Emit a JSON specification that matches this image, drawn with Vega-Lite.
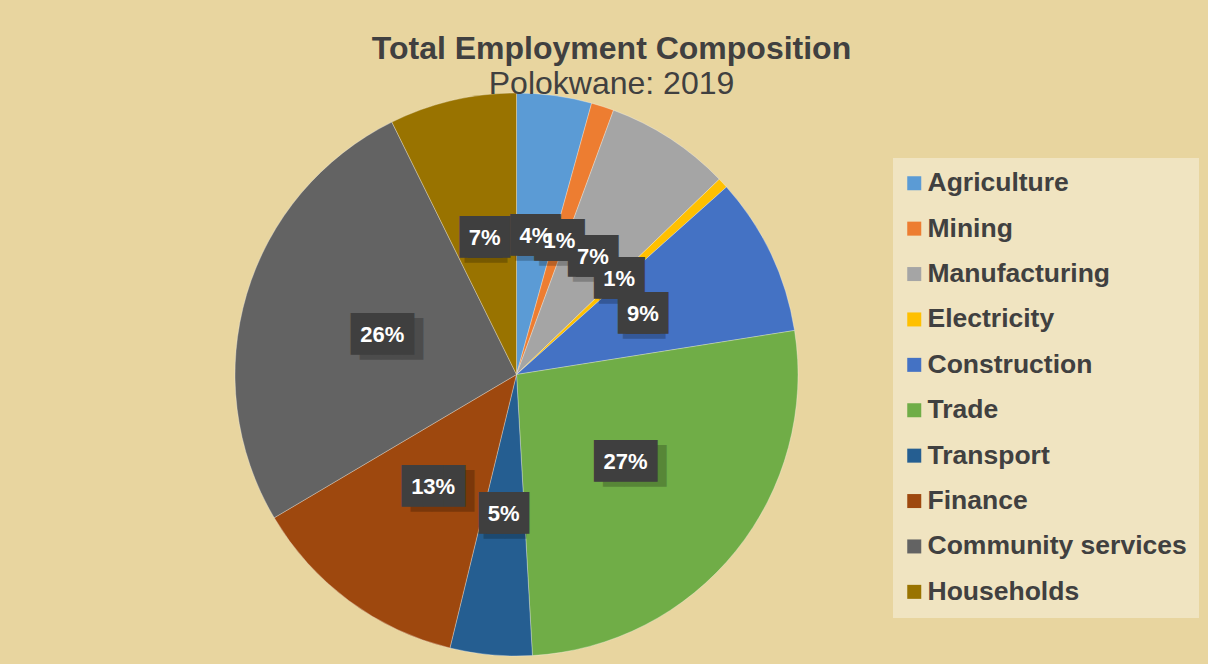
{
  "$schema": "https://vega.github.io/schema/vega-lite/v6.json",
  "width": 563,
  "height": 563,
  "autosize": {"type": "none"},
  "padding": {"left": 235, "top": 93, "right": 410, "bottom": 8},
  "background": "#E8D59F",
  "config": {"view": {"stroke": null}},
  "title": {
    "text": "Total Employment Composition",
    "subtitle": "Polokwane: 2019",
    "anchor": "middle",
    "frame": "group",
    "dx": 95,
    "offset": -9,
    "font": "Liberation Sans",
    "fontSize": 32,
    "fontWeight": "bold",
    "color": "#404040",
    "subtitleFont": "Liberation Sans",
    "subtitleFontSize": 32,
    "subtitleColor": "#404040",
    "subtitlePadding": 3
  },
  "data": {
    "values": [
      {"i": 1, "sector": "Agriculture", "share": 0.043},
      {"i": 2, "sector": "Mining", "share": 0.013},
      {"i": 3, "sector": "Manufacturing", "share": 0.072},
      {"i": 4, "sector": "Electricity", "share": 0.006},
      {"i": 5, "sector": "Construction", "share": 0.091},
      {"i": 6, "sector": "Trade", "share": 0.266},
      {"i": 7, "sector": "Transport", "share": 0.047},
      {"i": 8, "sector": "Finance", "share": 0.127},
      {"i": 9, "sector": "Community services", "share": 0.262},
      {"i": 10, "sector": "Households", "share": 0.073}
    ]
  },
  "encoding": {
    "theta": {"field": "share", "type": "quantitative", "stack": true},
    "order": {"field": "i", "type": "quantitative"}
  },
  "layer": [
    {
      "mark": {"type": "arc", "stroke": "#ffffff", "strokeWidth": 0.6, "strokeOpacity": 0.5},
      "encoding": {
        "color": {
          "field": "sector",
          "type": "nominal",
          "scale": {
            "domain": ["Agriculture", "Mining", "Manufacturing", "Electricity", "Construction", "Trade", "Transport", "Finance", "Community services", "Households"],
            "range": ["#5B9BD5", "#ED7D31", "#A5A5A5", "#FFC000", "#4472C4", "#70AD47", "#255E91", "#9E480E", "#636363", "#997300"]
          },
          "legend": {
            "title": null,
            "orient": "none",
            "legendX": 658,
            "legendY": 65,
            "symbolType": "square",
            "symbolSize": 196,
            "symbolStrokeWidth": 0,
            "symbolOffset": -4,
            "labelFont": "Liberation Sans",
            "labelFontSize": 26.5,
            "labelFontWeight": "bold",
            "labelColor": "#404040",
            "labelOffset": 0,
            "labelLimit": 400,
            "rowPadding": 18.4,
            "padding": 12,
            "fillColor": "rgba(255,255,255,0.36)"
          }
        }
      }
    },
    {
      "mark": {"type": "text", "radius": 140, "font": "DejaVu Sans Mono", "fontSize": 35, "baseline": "middle", "align": "center", "dx": 1, "dy": 5, "color": "#000000", "opacity": 0.22},
      "encoding": {
        "text": {"condition": {"test": "datum.share >= 0.095", "value": ""}, "value": "██"}
      }
    },
    {
      "mark": {"type": "text", "radius": 140, "font": "DejaVu Sans Mono", "fontSize": 35, "baseline": "middle", "align": "center", "dx": 9, "dy": 5, "color": "#000000", "opacity": 0.22},
      "encoding": {
        "text": {"condition": {"test": "datum.share >= 0.095", "value": "███"}, "value": ""}
      }
    },
    {
      "mark": {"type": "text", "radius": 140, "font": "DejaVu Sans Mono", "fontSize": 35, "baseline": "middle", "align": "center", "dx": -4, "color": "#3F3F3F"},
      "encoding": {
        "text": {"condition": {"test": "datum.share >= 0.095", "value": ""}, "value": "██"}
      }
    },
    {
      "mark": {"type": "text", "radius": 140, "font": "DejaVu Sans Mono", "fontSize": 35, "baseline": "middle", "align": "center", "dx": 4, "color": "#3F3F3F"},
      "encoding": {
        "text": {"condition": {"test": "datum.share >= 0.095", "value": ""}, "value": "██"}
      }
    },
    {
      "mark": {"type": "text", "radius": 140, "font": "DejaVu Sans Mono", "fontSize": 35, "baseline": "middle", "align": "center", "color": "#3F3F3F"},
      "encoding": {
        "text": {"condition": {"test": "datum.share >= 0.095", "value": "███"}, "value": ""}
      }
    },
    {
      "mark": {"type": "text", "radius": 140, "font": "Liberation Sans", "fontSize": 22, "fontWeight": "bold", "baseline": "middle", "align": "center", "color": "#ffffff"},
      "encoding": {
        "text": {"field": "share", "type": "quantitative", "format": ".0%"}
      }
    }
  ]
}
